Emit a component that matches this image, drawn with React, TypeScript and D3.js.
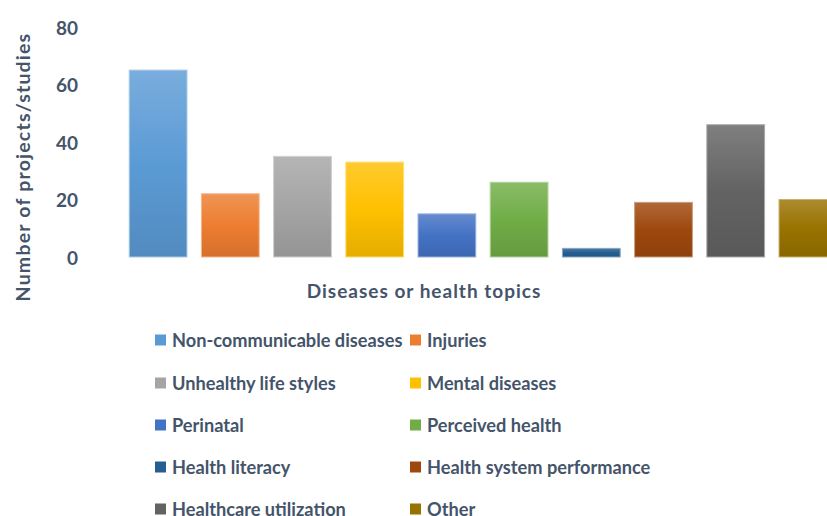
import React from "react";
import * as d3 from "d3";

const categories = [
  "Non-communicable diseases",
  "Injuries",
  "Unhealthy life styles",
  "Mental diseases",
  "Perinatal",
  "Perceived health",
  "Health literacy",
  "Health system performance",
  "Healthcare utilization",
  "Other",
];
const values = [65, 22, 35, 33, 15, 26, 3, 19, 46, 20];
const baseColors = [
  "#5B9BD5",
  "#ED7D31",
  "#A5A5A5",
  "#FFC000",
  "#4472C4",
  "#70AD47",
  "#255E91",
  "#9E480E",
  "#636363",
  "#997300",
];
const yTicks = [0, 20, 40, 60, 80];
const yTitle = "Number of projects/studies";
const xTitle = "Diseases or health topics";

const W = 827;
const H = 516;
const TEXT = "#44546A";
const FONT = "Lato, 'Open Sans', sans-serif";

export default function App() {
  const x = d3.scaleBand<string>().domain(categories).range([122, 844]).paddingInner(0.2).paddingOuter(0.1);
  const y = d3.scaleLinear().domain([0, 80]).range([257, 27]);

  const legendCols = [155, 410];
  const legendRows = [340, 383, 425, 467, 509];

  return (
    <svg width={W} height={H} style={{ position: "absolute", left: 0, top: 0, background: "#fff" }} fontFamily={FONT}>
      <defs>
        {baseColors.map((c, i) => {
          const col = d3.color(c)!;
          return (
            <linearGradient key={i} id={`g${i}`} x1="0" y1="0" x2="0" y2="1">
              <stop offset="0%" stopColor={d3.interpolateRgb(c, "#ffffff")(0.18)} />
              <stop offset="50%" stopColor={c} />
              <stop offset="100%" stopColor={col.darker(0.3).formatHex()} />
            </linearGradient>
          );
        })}
      </defs>
      {yTicks.map((t) => (
        <text key={t} x={78} y={y(t)} textAnchor="end" dominantBaseline="central" fontSize={19} fontWeight="bold" fill={TEXT}>
          {t}
        </text>
      ))}
      <text
        transform={`translate(22,167) rotate(-90)`}
        textAnchor="middle"
        dominantBaseline="central"
        fontSize={19.5}
        letterSpacing={1.2}
        fontWeight="bold"
        fill={TEXT}
      >
        {yTitle}
      </text>
      {categories.map((c, i) => (
        <rect
          key={c}
          x={x(c)!}
          y={y(values[i])}
          width={x.bandwidth()}
          height={y(0) - y(values[i])}
          fill={`url(#g${i})`}
          stroke={d3.interpolateRgb(baseColors[i], "#ffffff")(0.45)}
          strokeWidth={1}
        />
      ))}
      <text x={424} y={290} textAnchor="middle" dominantBaseline="central" fontSize={19} letterSpacing={1} fontWeight="bold" fill={TEXT}>
        {xTitle}
      </text>
      {categories.map((c, i) => {
        const col = i % 2;
        const row = Math.floor(i / 2);
        const lx = legendCols[col];
        const ly = legendRows[row];
        return (
          <g key={c}>
            <rect x={lx} y={ly - 5.5} width={11} height={11} fill={baseColors[i]} />
            <text x={lx + 17} y={ly} dominantBaseline="central" fontSize={18.2} fontWeight="bold" fill={TEXT}>
              {c}
            </text>
          </g>
        );
      })}
    </svg>
  );
}
